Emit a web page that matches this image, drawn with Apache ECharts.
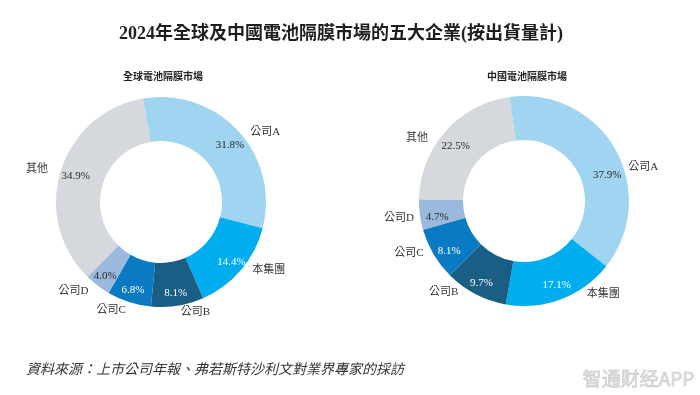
<!DOCTYPE html>
<html>
<head>
<meta charset="utf-8">
<script src="https://cdn.jsdelivr.net/npm/echarts@6/dist/echarts.min.js"></script>
<style>
html,body{margin:0;padding:0;background:#fff;}
#chart{width:700px;height:395px;}
</style>
</head>
<body>
<div id="chart"></div>
<script>
const categories = ['公司A', '本集團', '公司B', '公司C', '公司D', '其他'];
const globalShare = [31.8, 14.4, 8.1, 6.8, 4.0, 34.9];
const chinaShare = [37.9, 17.1, 9.7, 8.1, 4.7, 22.5];
const mainTitle = '2024年全球及中國電池隔膜市場的五大企業(按出貨量計)';
const subTitles = ['全球電池隔膜市場', '中國電池隔膜市場'];
const sourceText = '資料來源：上市公司年報、弗若斯特沙利文對業界專家的採訪';
const watermark = '智通财经APP';

// styling
const colors = ['#9fd5f1', '#00adee', '#1a5e84', '#0a7bc3', '#9bb9dd', '#d5d8dd'];
const pctColors = ['#2a2a2a', '#ffffff', '#ffffff', '#ffffff', '#2a2a2a', '#2a2a2a'];
const FONT = '"Liberation Serif", "Noto Sans CJK TC", serif';
// small hand-layout nudges of the label text (as in the original artwork)
const nameNudgeGlobal = [[-4, 6], [-5, -4], [-9, 0], [10, 1], [6, 0], [5, 0]];
const nameNudgeChina = [[-4, 22], [12, -12], [-3, -8], [7, -5], [12, 3], [-1, 11]];
const pctNudgeGlobal = [[1, 6], [0, 0], [0, 0], [0, 0], [0, 0], [3, 1]];
const pctNudgeChina = [[3, 20], [0, -2], [0, 0], [5, 3], [5, 4], [1, 6]];

function buildData(values) {
  return categories.map((name, i) => ({
    name: name,
    value: values[i],
    itemStyle: { color: colors[i] }
  }));
}
function buildPctData(values) {
  return categories.map((name, i) => ({
    name: name,
    value: values[i],
    itemStyle: { color: 'rgba(0,0,0,0)' },
    label: { color: pctColors[i] }
  }));
}
function nudger(table) {
  return function (p) {
    const n = table[p.dataIndex] || [0, 0];
    return { dx: n[0], dy: n[1] };
  };
}

function ring(values, center, startAngle, nameNudge, pctNudge) {
  return [
    {
      type: 'pie',
      center: center,
      radius: [61, 105],
      startAngle: startAngle,
      clockwise: true,
      avoidLabelOverlap: false,
      silent: true,
      label: {
        show: true,
        position: 'outside',
        formatter: '{b}',
        fontFamily: FONT,
        fontSize: 11,
        color: '#333'
      },
      labelLine: { show: false, length: 7, length2: 6 },
      labelLayout: nudger(nameNudge),
      data: buildData(values)
    },
    {
      type: 'pie',
      center: center,
      radius: [74, 105],
      startAngle: startAngle,
      clockwise: true,
      silent: true,
      label: {
        show: true,
        position: 'inside',
        formatter: p => p.value.toFixed(1) + '%',
        fontFamily: FONT,
        fontSize: 11
      },
      labelLine: { show: false },
      labelLayout: nudger(pctNudge),
      data: buildPctData(values)
    }
  ];
}

const chart = echarts.init(document.getElementById('chart'), null, { renderer: 'canvas' });
chart.setOption({
  animation: false,
  backgroundColor: '#ffffff',
  title: [
    {
      text: mainTitle,
      left: 336, top: 20, textAlign: 'center',
      textStyle: { fontFamily: FONT, fontSize: 18, fontWeight: 'bold', color: '#1e1e1e' }
    },
    {
      text: subTitles[0],
      left: 158, top: 67, textAlign: 'center',
      textStyle: { fontFamily: FONT, fontSize: 10, fontWeight: 'bold', color: '#222' }
    },
    {
      text: subTitles[1],
      left: 522, top: 67, textAlign: 'center',
      textStyle: { fontFamily: FONT, fontSize: 10, fontWeight: 'bold', color: '#222' }
    },
    {
      text: sourceText,
      left: 21, top: 358,
      textStyle: { fontFamily: FONT, fontSize: 14, fontStyle: 'italic', fontWeight: 'normal', color: '#333' }
    },
    {
      text: watermark,
      right: 0, top: 364,
      textStyle: { fontFamily: '"Noto Sans CJK SC", sans-serif', fontSize: 19, fontWeight: 'normal', color: '#dadada',
        textBorderColor: '#b5b5b5', textBorderWidth: 0.6 }
    }
  ],
  series: [].concat(
    ring(globalShare, [161, 202], 100, nameNudgeGlobal, pctNudgeGlobal),
    ring(chinaShare, [524, 201], 98, nameNudgeChina, pctNudgeChina)
  )
});
</script>
</body>
</html>
